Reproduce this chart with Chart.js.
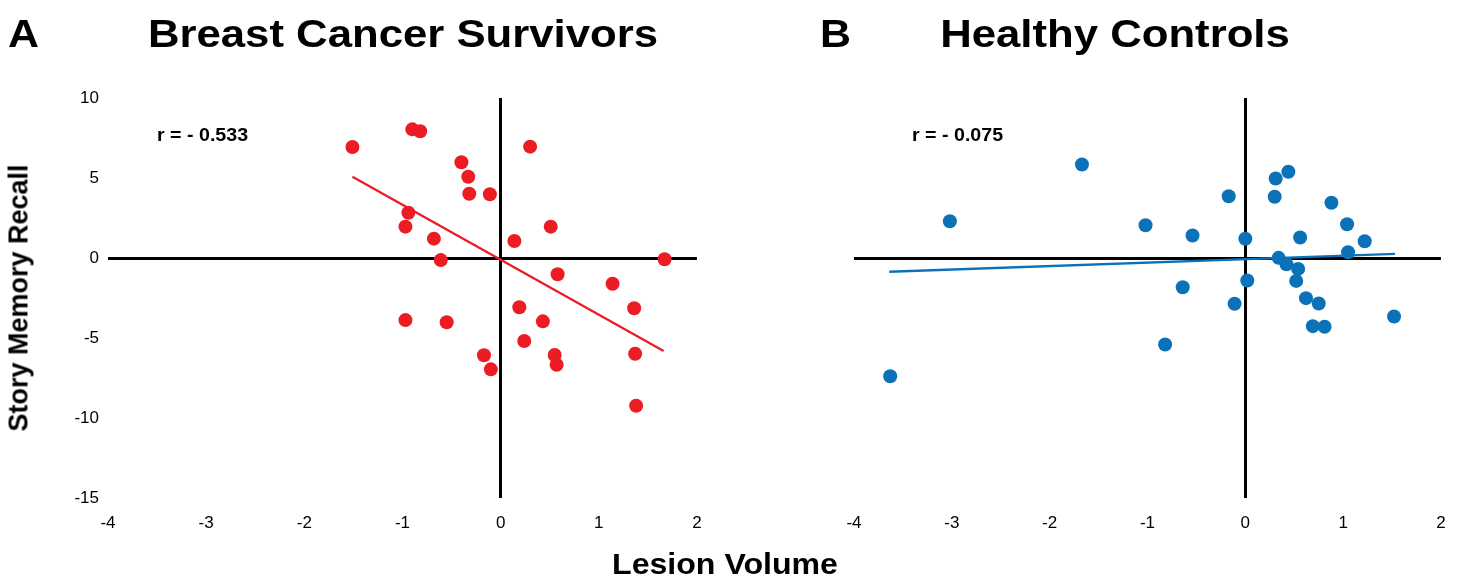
<!DOCTYPE html>
<html>
<head>
<meta charset="utf-8">
<script src="https://cdn.jsdelivr.net/npm/chart.js@4.4.1/dist/chart.umd.min.js"></script>
<style>
  html, body { margin: 0; padding: 0; background: #fff; }
  body { width: 1461px; height: 579px; position: relative; overflow: hidden; font-family: "Liberation Sans", Arial, sans-serif; }
  canvas { position: absolute; top: 0; }
  .t { position: absolute; white-space: nowrap; font-weight: bold; color: #000; }
  .panel { font-size: 38px; line-height: 38px; top: 15px; transform: translateX(-50%) scaleX(1.15); }
  .letter { font-size: 39px; line-height: 39px; top: 14px; transform-origin: left center; transform: scaleX(1.1); }
  .r { font-size: 18px; line-height: 18px; top: 126px; transform-origin: left center; transform: scaleX(1.09); }
  .xt { font-size: 30px; line-height: 30px; top: 549px; left: 725px; transform: translateX(-50%) scaleX(1.07); }
  .yt { font-size: 27px; line-height: 27px; left: 19px; top: 298px; transform: translate(-50%, -50%) rotate(-90deg); }
</style>
</head>
<body>
<canvas id="cA" width="720" height="579" style="left:0px;width:720px;height:579px"></canvas>
<canvas id="cB" width="731" height="579" style="left:730px;width:731px;height:579px"></canvas>

<div class="t letter" style="left:8px">A</div>
<div class="t panel" style="left:403px">Breast Cancer Survivors</div>
<div class="t letter" style="left:820px">B</div>
<div class="t panel" style="left:1115px">Healthy Controls</div>
<div class="t r" style="left:157px">r = - 0.533</div>
<div class="t r" style="left:912px">r = - 0.075</div>
<div class="t xt">Lesion Volume</div>
<div class="t yt">Story Memory Recall</div>

<script>
// ---- data ----
const xTicks = [-4, -3, -2, -1, 0, 1, 2];
const yTicks = [-15, -10, -5, 0, 5, 10];

const bcsX = [-1.51, -0.90, -0.82, 0.30, -0.40, -0.33, -0.32, -0.11, -0.94, -0.97, -0.68, -0.61, 0.51, 0.14, 1.67, 0.58, 1.14, -0.97, -0.55, -0.17, -0.10, 0.19, 0.43, 0.24, 0.55, 0.57, 1.36, 1.37, 1.38];
const bcsY = [6.94, 8.04, 7.92, 6.96, 5.98, 5.08, 4.02, 3.98, 2.83, 1.96, 1.21, -0.13, 1.96, 1.06, -0.08, -1.02, -1.61, -3.88, -4.02, -6.08, -6.96, -3.08, -3.96, -5.19, -6.06, -6.67, -3.14, -5.98, -9.23];
const bcsFitX = [-1.51, 1.66];
const bcsFitY = [5.08, -5.81];

const hcX = [-3.63, -3.02, -1.67, -1.02, -0.54, -0.17, 0.00, -0.64, 0.02, -0.11, -0.82, 0.31, 0.44, 0.30, 0.88, 1.04, 1.22, 0.56, 1.05, 0.34, 0.42, 0.54, 0.52, 0.62, 0.75, 0.69, 0.81, 1.52];
const hcY = [-7.39, 2.30, 5.84, 2.05, 1.41, 3.86, 1.20, -1.83, -1.41, -2.86, -5.41, 4.97, 5.39, 3.83, 3.45, 2.11, 1.05, 1.28, 0.36, 0.01, -0.39, -0.68, -1.43, -2.51, -2.84, -4.26, -4.30, -3.66];
const hcFitX = [-3.64, 1.53];
const hcFitY = [-0.86, 0.26];

const RED = '#EC1C24';
const BLUE = '#0B72B8';

function pts(xs, ys) { return xs.map((x, i) => ({ x: x, y: ys[i] })); }

function zeroLine(c) { return (c.tick && c.tick.value === 0) ? '#000000' : 'rgba(0,0,0,0)'; }

function makeChart(id, xs, ys, fx, fy, color, yAxisWidth, padRight, showYLabels) {
  return new Chart(document.getElementById(id), {
    type: 'scatter',
    data: {
      datasets: [
        { data: pts(fx, fy), showLine: true, borderColor: color, borderWidth: 2.3, pointRadius: 0, fill: false, order: 1 },
        { data: pts(xs, ys), backgroundColor: color, borderWidth: 0, pointRadius: 7, pointHoverRadius: 7, order: 2 }
      ]
    },
    options: {
      responsive: false,
      animation: false,
      devicePixelRatio: 1,
      layout: { padding: { left: 0, top: 98, right: padRight, bottom: 41 } },
      plugins: { legend: { display: false }, tooltip: { enabled: false } },
      scales: {
        x: {
          type: 'linear',
          min: xTicks[0], max: xTicks[xTicks.length - 1],
          afterBuildTicks: s => { s.ticks = xTicks.map(v => ({ value: v })); },
          afterFit: s => { s.height = 40; },
          border: { display: false },
          grid: { color: zeroLine, lineWidth: 3, drawTicks: false },
          ticks: { padding: 15, color: '#000', font: { family: 'Liberation Sans', size: 17 } }
        },
        y: {
          type: 'linear',
          min: yTicks[0], max: yTicks[yTicks.length - 1],
          afterBuildTicks: s => { s.ticks = yTicks.map(v => ({ value: v })); },
          afterFit: s => { s.width = yAxisWidth; },
          border: { display: false },
          grid: { color: zeroLine, lineWidth: 3, drawTicks: false },
          ticks: { display: showYLabels, padding: 9, color: '#000', font: { family: 'Liberation Sans', size: 17 } }
        }
      }
    }
  });
}

makeChart('cA', bcsX, bcsY, bcsFitX, bcsFitY, RED, 108, 23, true);
makeChart('cB', hcX, hcY, hcFitX, hcFitY, BLUE, 124, 20, false);
</script>
</body>
</html>
